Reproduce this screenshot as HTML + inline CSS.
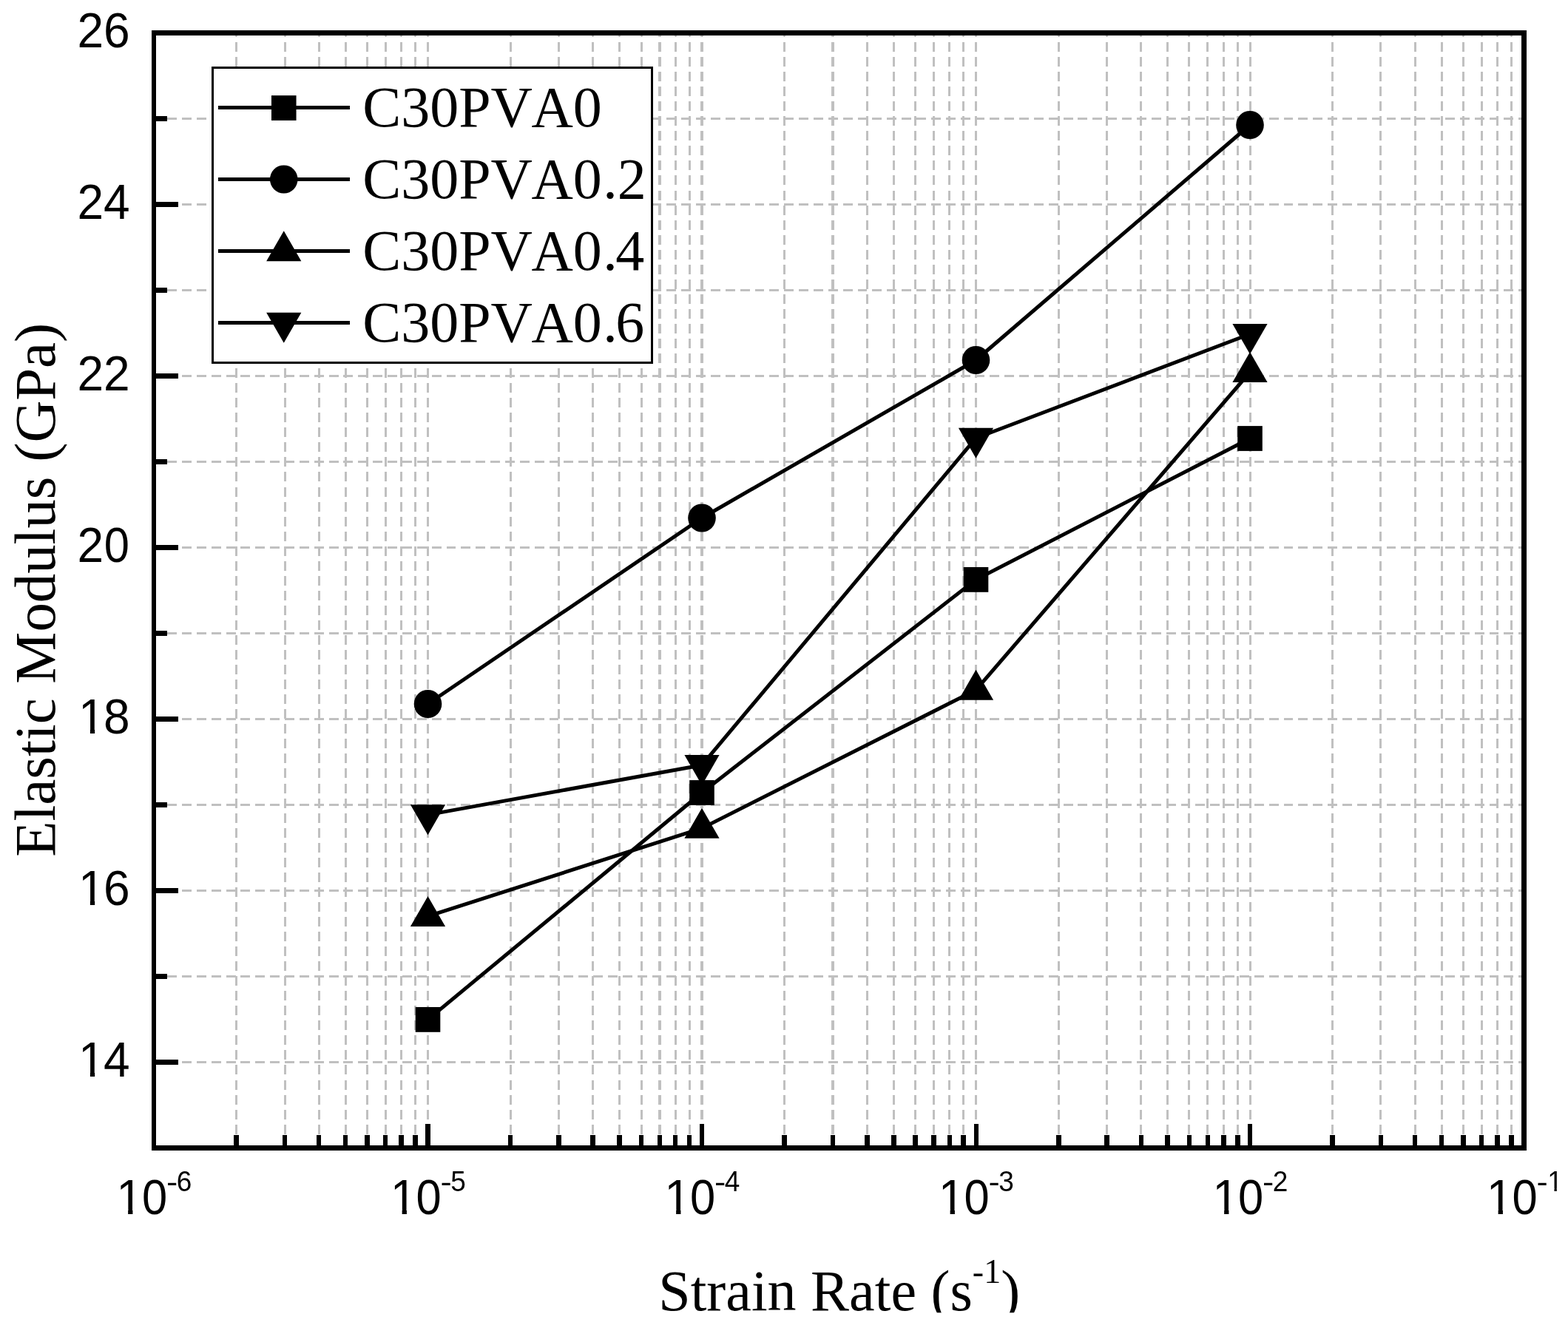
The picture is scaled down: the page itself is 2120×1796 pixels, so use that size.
<!DOCTYPE html>
<html lang="en"><head><meta charset="utf-8">
<title>Elastic Modulus vs Strain Rate</title>
<style>
html,body{margin:0;padding:0;background:#fff;}
body{width:2120px;height:1796px;overflow:hidden;}
svg{display:block;}
text{font-kerning:none;fill:#000;}
.tk{font-family:"Liberation Sans", sans-serif;font-size:64px;}
.sup{font-size:37px;}
.ti{font-family:"Liberation Serif", serif;font-size:78px;}
.tsup{font-size:46px;}
.lg{font-family:"Liberation Serif", serif;font-size:78px;}
</style></head><body>
<svg width="2120" height="1796" viewBox="0 0 2120 1796">
<defs>
<clipPath id="cY"><rect x="-10" y="-120" width="140" height="114.06"/><rect x="17.38" y="-6.24" width="6.28" height="9"/><rect x="35.10" y="-6.24" width="160" height="12"/></clipPath>
<clipPath id="cX"><rect x="-90" y="-120" width="220" height="114.06"/><rect x="-34.86" y="-6.24" width="6.28" height="9"/><rect x="-17.14" y="-6.24" width="160" height="12"/></clipPath>
<clipPath id="cX1"><rect x="-90" y="-120" width="220" height="86.58"/><rect x="-90" y="-33.62" width="123.51" height="5.00"/><rect x="40.97" y="-33.62" width="3.34" height="5.00"/><rect x="-90" y="-29.41" width="220" height="23.47"/><rect x="-34.86" y="-6.24" width="6.28" height="9"/><rect x="-17.14" y="-6.24" width="160" height="12"/></clipPath>
<clipPath id="xt"><rect x="0" y="1600" width="2120" height="175.2"/></clipPath>
</defs>
<rect x="0" y="0" width="2120" height="1796" fill="#fff"/>
<g stroke="#c0c0c0" stroke-width="3" fill="none" shape-rendering="crispEdges">
<line x1="206.3" y1="1436.5" x2="2057" y2="1436.5" stroke-dasharray="12.90 6.96"/>
<line x1="206.3" y1="1320.5" x2="2057" y2="1320.5" stroke-dasharray="12.90 6.96"/>
<line x1="206.3" y1="1204.5" x2="2057" y2="1204.5" stroke-dasharray="12.90 6.96"/>
<line x1="206.3" y1="1088.5" x2="2057" y2="1088.5" stroke-dasharray="12.90 6.96"/>
<line x1="206.3" y1="972.5" x2="2057" y2="972.5" stroke-dasharray="12.90 6.96"/>
<line x1="206.3" y1="856.5" x2="2057" y2="856.5" stroke-dasharray="12.90 6.96"/>
<line x1="206.3" y1="740.5" x2="2057" y2="740.5" stroke-dasharray="12.90 6.96"/>
<line x1="206.3" y1="624.5" x2="2057" y2="624.5" stroke-dasharray="12.90 6.96"/>
<line x1="206.3" y1="508.5" x2="2057" y2="508.5" stroke-dasharray="12.90 6.96"/>
<line x1="206.3" y1="392.5" x2="2057" y2="392.5" stroke-dasharray="12.90 6.96"/>
<line x1="206.3" y1="276.5" x2="2057" y2="276.5" stroke-dasharray="12.90 6.96"/>
<line x1="206.3" y1="160.5" x2="2057" y2="160.5" stroke-dasharray="12.90 6.96"/>
<line x1="319.5" y1="48.00" x2="319.5" y2="1549" stroke-width="3" stroke-dasharray="13.00 7.05" stroke-dashoffset="11.05"/>
<line x1="385.5" y1="48.00" x2="385.5" y2="1549" stroke-width="3" stroke-dasharray="13.00 7.05" stroke-dashoffset="11.05"/>
<line x1="431.5" y1="48.00" x2="431.5" y2="1549" stroke-width="3" stroke-dasharray="13.00 7.05" stroke-dashoffset="11.05"/>
<line x1="467.5" y1="48.00" x2="467.5" y2="1549" stroke-width="3" stroke-dasharray="13.00 7.05" stroke-dashoffset="11.05"/>
<line x1="496.5" y1="48.00" x2="496.5" y2="1549" stroke-width="3" stroke-dasharray="13.00 7.05" stroke-dashoffset="11.05"/>
<line x1="521.5" y1="48.00" x2="521.5" y2="1549" stroke-width="3" stroke-dasharray="13.00 7.05" stroke-dashoffset="11.05"/>
<line x1="542.5" y1="48.00" x2="542.5" y2="1549" stroke-width="3" stroke-dasharray="13.00 7.05" stroke-dashoffset="11.05"/>
<line x1="561.5" y1="48.00" x2="561.5" y2="1549" stroke-width="3" stroke-dasharray="13.00 7.05" stroke-dashoffset="11.05"/>
<line x1="578.5" y1="48.00" x2="578.5" y2="1549" stroke-width="3" stroke-dasharray="13.00 7.05" stroke-dashoffset="11.05"/>
<line x1="690.5" y1="48.00" x2="690.5" y2="1549" stroke-width="3" stroke-dasharray="13.00 7.05" stroke-dashoffset="11.05"/>
<line x1="755.5" y1="48.00" x2="755.5" y2="1549" stroke-width="3" stroke-dasharray="13.00 7.05" stroke-dashoffset="11.05"/>
<line x1="801.5" y1="48.00" x2="801.5" y2="1549" stroke-width="3" stroke-dasharray="13.00 7.05" stroke-dashoffset="11.05"/>
<line x1="837.5" y1="48.00" x2="837.5" y2="1549" stroke-width="3" stroke-dasharray="13.00 7.05" stroke-dashoffset="11.05"/>
<line x1="867.5" y1="48.00" x2="867.5" y2="1549" stroke-width="3" stroke-dasharray="13.00 7.05" stroke-dashoffset="11.05"/>
<line x1="892.0" y1="48.00" x2="892.0" y2="1549" stroke-width="4" stroke-dasharray="13.00 7.05" stroke-dashoffset="11.05"/>
<line x1="913.5" y1="48.00" x2="913.5" y2="1549" stroke-width="3" stroke-dasharray="13.00 7.05" stroke-dashoffset="11.05"/>
<line x1="932.5" y1="48.00" x2="932.5" y2="1549" stroke-width="3" stroke-dasharray="13.00 7.05" stroke-dashoffset="11.05"/>
<line x1="949.0" y1="48.00" x2="949.0" y2="1549" stroke-width="4" stroke-dasharray="13.00 7.05" stroke-dashoffset="11.05"/>
<line x1="1060.5" y1="48.00" x2="1060.5" y2="1549" stroke-width="3" stroke-dasharray="13.00 7.05" stroke-dashoffset="11.05"/>
<line x1="1126.0" y1="48.00" x2="1126.0" y2="1549" stroke-width="4" stroke-dasharray="13.00 7.05" stroke-dashoffset="11.05"/>
<line x1="1172.5" y1="48.00" x2="1172.5" y2="1549" stroke-width="3" stroke-dasharray="13.00 7.05" stroke-dashoffset="11.05"/>
<line x1="1208.5" y1="48.00" x2="1208.5" y2="1549" stroke-width="3" stroke-dasharray="13.00 7.05" stroke-dashoffset="11.05"/>
<line x1="1237.5" y1="48.00" x2="1237.5" y2="1549" stroke-width="3" stroke-dasharray="13.00 7.05" stroke-dashoffset="11.05"/>
<line x1="1262.5" y1="48.00" x2="1262.5" y2="1549" stroke-width="3" stroke-dasharray="13.00 7.05" stroke-dashoffset="11.05"/>
<line x1="1283.5" y1="48.00" x2="1283.5" y2="1549" stroke-width="3" stroke-dasharray="13.00 7.05" stroke-dashoffset="11.05"/>
<line x1="1302.5" y1="48.00" x2="1302.5" y2="1549" stroke-width="3" stroke-dasharray="13.00 7.05" stroke-dashoffset="11.05"/>
<line x1="1319.5" y1="48.00" x2="1319.5" y2="1549" stroke-width="3" stroke-dasharray="13.00 7.05" stroke-dashoffset="11.05"/>
<line x1="1431.5" y1="48.00" x2="1431.5" y2="1549" stroke-width="3" stroke-dasharray="13.00 7.05" stroke-dashoffset="11.05"/>
<line x1="1496.5" y1="48.00" x2="1496.5" y2="1549" stroke-width="3" stroke-dasharray="13.00 7.05" stroke-dashoffset="11.05"/>
<line x1="1542.5" y1="48.00" x2="1542.5" y2="1549" stroke-width="3" stroke-dasharray="13.00 7.05" stroke-dashoffset="11.05"/>
<line x1="1578.5" y1="48.00" x2="1578.5" y2="1549" stroke-width="3" stroke-dasharray="13.00 7.05" stroke-dashoffset="11.05"/>
<line x1="1607.5" y1="48.00" x2="1607.5" y2="1549" stroke-width="3" stroke-dasharray="13.00 7.05" stroke-dashoffset="11.05"/>
<line x1="1632.5" y1="48.00" x2="1632.5" y2="1549" stroke-width="3" stroke-dasharray="13.00 7.05" stroke-dashoffset="11.05"/>
<line x1="1654.5" y1="48.00" x2="1654.5" y2="1549" stroke-width="3" stroke-dasharray="13.00 7.05" stroke-dashoffset="11.05"/>
<line x1="1673.5" y1="48.00" x2="1673.5" y2="1549" stroke-width="3" stroke-dasharray="13.00 7.05" stroke-dashoffset="11.05"/>
<line x1="1690.5" y1="48.00" x2="1690.5" y2="1549" stroke-width="3" stroke-dasharray="13.00 7.05" stroke-dashoffset="11.05"/>
<line x1="1801.5" y1="48.00" x2="1801.5" y2="1549" stroke-width="3" stroke-dasharray="13.00 7.05" stroke-dashoffset="11.05"/>
<line x1="1866.5" y1="48.00" x2="1866.5" y2="1549" stroke-width="3" stroke-dasharray="13.00 7.05" stroke-dashoffset="11.05"/>
<line x1="1913.5" y1="48.00" x2="1913.5" y2="1549" stroke-width="3" stroke-dasharray="13.00 7.05" stroke-dashoffset="11.05"/>
<line x1="1949.5" y1="48.00" x2="1949.5" y2="1549" stroke-width="3" stroke-dasharray="13.00 7.05" stroke-dashoffset="11.05"/>
<line x1="1978.5" y1="48.00" x2="1978.5" y2="1549" stroke-width="3" stroke-dasharray="13.00 7.05" stroke-dashoffset="11.05"/>
<line x1="2003.5" y1="48.00" x2="2003.5" y2="1549" stroke-width="3" stroke-dasharray="13.00 7.05" stroke-dashoffset="11.05"/>
<line x1="2024.5" y1="48.00" x2="2024.5" y2="1549" stroke-width="3" stroke-dasharray="13.00 7.05" stroke-dashoffset="11.05"/>
<line x1="2043.5" y1="48.00" x2="2043.5" y2="1549" stroke-width="3" stroke-dasharray="13.00 7.05" stroke-dashoffset="11.05"/>
</g>
<g fill="#000" shape-rendering="crispEdges">
<rect x="205" y="41" width="6" height="1515"/>
<rect x="2057" y="41" width="7" height="1515"/>
<rect x="205" y="41" width="1859" height="7"/>
<rect x="205" y="1549" width="1859" height="7"/>
<rect x="211" y="1433.0" width="30" height="7"/>
<rect x="211" y="1317.0" width="15" height="7"/>
<rect x="211" y="1201.0" width="30" height="7"/>
<rect x="211" y="1085.0" width="15" height="7"/>
<rect x="211" y="969.0" width="30" height="7"/>
<rect x="211" y="853.0" width="15" height="7"/>
<rect x="211" y="737.0" width="30" height="7"/>
<rect x="211" y="621.0" width="15" height="7"/>
<rect x="211" y="505.0" width="30" height="7"/>
<rect x="211" y="389.0" width="15" height="7"/>
<rect x="211" y="273.0" width="30" height="7"/>
<rect x="211" y="157.0" width="15" height="7"/>
<rect x="316" y="1535" width="7" height="14"/>
<rect x="382" y="1535" width="6" height="14"/>
<rect x="428" y="1535" width="6" height="14"/>
<rect x="464" y="1535" width="6" height="14"/>
<rect x="493" y="1535" width="7" height="14"/>
<rect x="518" y="1535" width="6" height="14"/>
<rect x="539" y="1535" width="7" height="14"/>
<rect x="558" y="1535" width="7" height="14"/>
<rect x="575" y="1520" width="7" height="29"/>
<rect x="687" y="1535" width="6" height="14"/>
<rect x="752" y="1535" width="7" height="14"/>
<rect x="798" y="1535" width="7" height="14"/>
<rect x="834" y="1535" width="7" height="14"/>
<rect x="864" y="1535" width="6" height="14"/>
<rect x="889" y="1535" width="6" height="14"/>
<rect x="910" y="1535" width="6" height="14"/>
<rect x="929" y="1535" width="6" height="14"/>
<rect x="946" y="1520" width="6" height="29"/>
<rect x="1057" y="1535" width="7" height="14"/>
<rect x="1123" y="1535" width="6" height="14"/>
<rect x="1169" y="1535" width="7" height="14"/>
<rect x="1205" y="1535" width="7" height="14"/>
<rect x="1234" y="1535" width="7" height="14"/>
<rect x="1259" y="1535" width="7" height="14"/>
<rect x="1281" y="1535" width="6" height="14"/>
<rect x="1299" y="1535" width="7" height="14"/>
<rect x="1317" y="1520" width="6" height="29"/>
<rect x="1428" y="1535" width="7" height="14"/>
<rect x="1493" y="1535" width="7" height="14"/>
<rect x="1540" y="1535" width="6" height="14"/>
<rect x="1575" y="1535" width="7" height="14"/>
<rect x="1605" y="1535" width="6" height="14"/>
<rect x="1630" y="1535" width="6" height="14"/>
<rect x="1651" y="1535" width="7" height="14"/>
<rect x="1670" y="1535" width="7" height="14"/>
<rect x="1687" y="1520" width="6" height="29"/>
<rect x="1798" y="1535" width="7" height="14"/>
<rect x="1864" y="1535" width="6" height="14"/>
<rect x="1910" y="1535" width="6" height="14"/>
<rect x="1946" y="1535" width="6" height="14"/>
<rect x="1975" y="1535" width="7" height="14"/>
<rect x="2000" y="1535" width="6" height="14"/>
<rect x="2021" y="1535" width="7" height="14"/>
<rect x="2040" y="1535" width="7" height="14"/>
</g>
<text class="tk" transform="translate(104.51 1455.80) scale(1 1.04)" clip-path="url(#cY)"><tspan x="1.60">1</tspan><tspan x="35.59">4</tspan></text>
<text class="tk" transform="translate(104.51 1223.80) scale(1 1.04)" clip-path="url(#cY)"><tspan x="1.60">1</tspan><tspan x="35.59">6</tspan></text>
<text class="tk" transform="translate(104.51 991.80) scale(1 1.04)" clip-path="url(#cY)"><tspan x="1.60">1</tspan><tspan x="35.59">8</tspan></text>
<text class="tk" transform="translate(104.51 759.80) scale(1 1.04)"><tspan x="0.00">2</tspan><tspan x="36.31" textLength="34.17" lengthAdjust="spacingAndGlyphs">0</tspan></text>
<text class="tk" transform="translate(104.51 527.80) scale(1 1.04)"><tspan x="0.00">2</tspan><tspan x="35.59">2</tspan></text>
<text class="tk" transform="translate(104.51 295.80) scale(1 1.04)"><tspan x="0.00">2</tspan><tspan x="35.59">4</tspan></text>
<text class="tk" transform="translate(104.51 63.80) scale(1 1.04)"><tspan x="0.00">2</tspan><tspan x="35.59">6</tspan></text>
<text class="tk" transform="translate(208.00 1642.00) scale(1 1.04)" clip-path="url(#cX)"><tspan x="-50.64">1</tspan><tspan x="-15.93" textLength="34.17" lengthAdjust="spacingAndGlyphs">0</tspan><tspan x="17.06" y="-28.68" font-size="39" textLength="15.27" lengthAdjust="spacingAndGlyphs">-</tspan><tspan class="sup" x="30.67" y="-29.81">6</tspan></text>
<text class="tk" transform="translate(578.50 1642.00) scale(1 1.04)" clip-path="url(#cX)"><tspan x="-50.64">1</tspan><tspan x="-15.93" textLength="34.17" lengthAdjust="spacingAndGlyphs">0</tspan><tspan x="17.06" y="-28.68" font-size="39" textLength="15.27" lengthAdjust="spacingAndGlyphs">-</tspan><tspan class="sup" x="30.67" y="-29.81">5</tspan></text>
<text class="tk" transform="translate(949.00 1642.00) scale(1 1.04)" clip-path="url(#cX)"><tspan x="-50.64">1</tspan><tspan x="-15.93" textLength="34.17" lengthAdjust="spacingAndGlyphs">0</tspan><tspan x="17.06" y="-28.68" font-size="39" textLength="15.27" lengthAdjust="spacingAndGlyphs">-</tspan><tspan class="sup" x="30.67" y="-29.81">4</tspan></text>
<text class="tk" transform="translate(1319.50 1642.00) scale(1 1.04)" clip-path="url(#cX)"><tspan x="-50.64">1</tspan><tspan x="-15.93" textLength="34.17" lengthAdjust="spacingAndGlyphs">0</tspan><tspan x="17.06" y="-28.68" font-size="39" textLength="15.27" lengthAdjust="spacingAndGlyphs">-</tspan><tspan class="sup" x="30.67" y="-29.81">3</tspan></text>
<text class="tk" transform="translate(1690.00 1642.00) scale(1 1.04)" clip-path="url(#cX)"><tspan x="-50.64">1</tspan><tspan x="-15.93" textLength="34.17" lengthAdjust="spacingAndGlyphs">0</tspan><tspan x="17.06" y="-28.68" font-size="39" textLength="15.27" lengthAdjust="spacingAndGlyphs">-</tspan><tspan class="sup" x="30.67" y="-29.81">2</tspan></text>
<text class="tk" transform="translate(2060.50 1642.00) scale(1 1.04)" clip-path="url(#cX1)"><tspan x="-50.64">1</tspan><tspan x="-15.93" textLength="34.17" lengthAdjust="spacingAndGlyphs">0</tspan><tspan x="17.06" y="-28.68" font-size="39" textLength="15.27" lengthAdjust="spacingAndGlyphs">-</tspan><tspan class="sup" x="31.70" y="-29.81">1</tspan></text>
<g clip-path="url(#xt)"><text class="ti" transform="translate(1134.7 1772.4) scale(1 1.015)" text-anchor="middle">Strain Rate (s<tspan class="tsup" dy="-37.2">-1</tspan><tspan dy="37.2">)</tspan></text></g>
<text class="ti" transform="translate(74 797.7) rotate(-90) scale(1.01 1)" text-anchor="middle">Elastic Modulus (GPa)</text>
<g fill="#000" stroke="none">
<polyline points="578.50,1378.90 949.00,1072.00 1319.50,783.90 1690.00,593.00" fill="none" stroke="#000" stroke-width="5.0" stroke-linejoin="round"/>
<rect x="561.70" y="1362.00" width="33.60" height="33.80"/>
<rect x="932.20" y="1055.10" width="33.60" height="33.80"/>
<rect x="1302.70" y="767.00" width="33.60" height="33.80"/>
<rect x="1673.20" y="576.10" width="33.60" height="33.80"/>
<polyline points="578.50,952.00 949.00,700.50 1319.50,487.00 1690.00,169.00" fill="none" stroke="#000" stroke-width="5.0" stroke-linejoin="round"/>
<ellipse cx="578.50" cy="952.00" rx="18.8" ry="19.1"/>
<ellipse cx="949.00" cy="700.50" rx="18.8" ry="19.1"/>
<ellipse cx="1319.50" cy="487.00" rx="18.8" ry="19.1"/>
<ellipse cx="1690.00" cy="169.00" rx="18.8" ry="19.1"/>
<polyline points="578.50,1239.23 949.00,1120.13 1319.50,933.13 1690.00,503.33" fill="none" stroke="#000" stroke-width="5.0" stroke-linejoin="round"/>
<polygon points="578.50,1211.90 602.10,1252.90 554.90,1252.90"/>
<polygon points="949.00,1092.80 972.60,1133.80 925.40,1133.80"/>
<polygon points="1319.50,905.80 1343.10,946.80 1295.90,946.80"/>
<polygon points="1690.00,476.00 1713.60,517.00 1666.40,517.00"/>
<polyline points="578.50,1101.87 949.00,1034.77 1319.50,592.47 1690.00,451.77" fill="none" stroke="#000" stroke-width="5.0" stroke-linejoin="round"/>
<polygon points="578.50,1129.20 602.10,1088.20 554.90,1088.20"/>
<polygon points="949.00,1062.10 972.60,1021.10 925.40,1021.10"/>
<polygon points="1319.50,619.80 1343.10,578.80 1295.90,578.80"/>
<polygon points="1690.00,479.10 1713.60,438.10 1666.40,438.10"/>
</g>
<rect x="287.5" y="91.5" width="594" height="399" fill="#fff" stroke="#000" stroke-width="3" shape-rendering="crispEdges"/>
<g fill="#000">
<rect x="295" y="143.0" width="178" height="5" shape-rendering="crispEdges"/>
<rect x="366.95" y="129.10" width="33.60" height="33.80"/>
<text class="lg" transform="translate(490.2 170.8) scale(1 1.01)">C30PV<tspan dx="-1.5">A0</tspan></text>
<rect x="295" y="240.0" width="178" height="5" shape-rendering="crispEdges"/>
<ellipse cx="383.75" cy="242.50" rx="18.8" ry="19.1"/>
<text class="lg" transform="translate(490.2 267.8) scale(1 1.01)">C30PV<tspan dx="-1.5">A0</tspan><tspan dx="1.5">.</tspan>2</text>
<rect x="295" y="337.0" width="178" height="5" shape-rendering="crispEdges"/>
<polygon points="383.75,312.17 407.35,353.17 360.15,353.17"/>
<text class="lg" transform="translate(490.2 364.8) scale(1 1.01)">C30PV<tspan dx="-1.5">A0</tspan><tspan dx="1.5">.</tspan><tspan dx="-2.5">4</tspan></text>
<rect x="295" y="434.0" width="178" height="5" shape-rendering="crispEdges"/>
<polygon points="383.75,463.83 407.35,422.83 360.15,422.83"/>
<text class="lg" transform="translate(490.2 461.8) scale(1 1.01)">C30PV<tspan dx="-1.5">A0</tspan><tspan dx="1.5">.</tspan><tspan dx="-2.5">6</tspan></text>
</g>
</svg>
</body></html>
